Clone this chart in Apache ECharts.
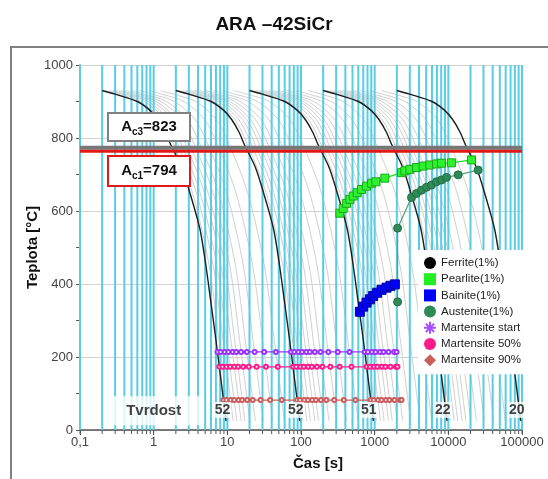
<!DOCTYPE html>
<html><head><meta charset="utf-8">
<script src="https://cdn.jsdelivr.net/npm/echarts@6/dist/echarts.min.js"></script>
<style>html,body{margin:0;padding:0;background:#fff}#c{width:548px;height:479px}</style>
</head><body><div id="c"></div>
<script>
// ---------- data ----------
const chartTitle = 'ARA \u201342SiCr';
const xTickLabels = ['0,1', '1', '10', '100', '1000', '10000', '100000'];
const gridDecades = [0.1, 1, 10, 100, 1000, 10000];
const gridMultipliers = [1, 2, 3, 4, 5, 6, 7, 8, 9];

// black cooling curves: temperature levels (°C) and the times (s) read at them
const blackCurveTemps = [930, 920, 900, 875, 850, 815, 780, 720, 650, 550, 450, 350, 250, 150, 25];
const blackCurveTimes = [
  [0.2, 0.3, 0.6, 0.9, 1.15, 1.45, 1.72, 2.4, 3.1, 4.25, 5.12, 5.98, 6.97, 8.05, 9.6],
  [2, 3, 6, 9, 11.5, 14.5, 17.2, 24, 31, 42.5, 51.2, 59.8, 69.7, 80.5, 96],
  [20, 30, 60, 90, 115, 145, 172, 240, 310, 425, 512, 598, 697, 805, 960],
  [200, 300, 600, 900, 1150, 1450, 1720, 2400, 3100, 4250, 5120, 5980, 6970, 8050, 9600],
  [2000, 3000, 6000, 9000, 11500, 14500, 17200, 24000, 31000, 42500, 51200, 59800, 69700, 80500, 96000]
];
// grey cooling curves: temperature levels (°C) and the times (s) read at them
const grayCurveTemps = [930, 920, 900, 850, 780, 650, 450, 250, 25];
const grayCurveTimes = [
  [0.22, 0.33, 0.66, 1.27, 1.89, 3.36, 5.67, 7.65, 10.6],
  [0.25, 0.375, 0.75, 1.44, 2.15, 3.81, 6.44, 8.69, 12],
  [0.28, 0.42, 0.84, 1.61, 2.41, 4.27, 7.21, 9.73, 13.4],
  [0.32, 0.48, 0.96, 1.84, 2.75, 4.88, 8.24, 11.1, 15.4],
  [0.36, 0.54, 1.08, 2.07, 3.1, 5.49, 9.27, 12.5, 17.3],
  [0.42, 0.63, 1.26, 2.42, 3.61, 6.41, 10.8, 14.6, 20.2],
  [0.5, 0.75, 1.5, 2.88, 4.3, 7.63, 12.9, 17.4, 24],
  [0.64, 0.96, 1.92, 3.68, 5.5, 9.76, 16.5, 22.2, 30.7],
  [0.86, 1.29, 2.58, 4.95, 7.4, 13.1, 22.1, 29.9, 41.3],
  [1.24, 1.86, 3.72, 7.13, 10.7, 18.9, 31.9, 43.1, 59.5],
  [2.2, 3.3, 6.6, 12.7, 18.9, 33.6, 56.7, 76.5, 106],
  [2.5, 3.75, 7.5, 14.4, 21.5, 38.1, 64.4, 86.9, 120],
  [2.8, 4.2, 8.4, 16.1, 24.1, 42.7, 72.1, 97.3, 134],
  [3.2, 4.8, 9.6, 18.4, 27.5, 48.8, 82.4, 111, 154],
  [3.6, 5.4, 10.8, 20.7, 31, 54.9, 92.7, 125, 173],
  [4.2, 6.3, 12.6, 24.2, 36.1, 64.1, 108, 146, 202],
  [5, 7.5, 15, 28.8, 43, 76.3, 129, 174, 240],
  [6.4, 9.6, 19.2, 36.8, 55, 97.6, 165, 222, 307],
  [8.6, 12.9, 25.8, 49.5, 74, 131, 221, 299, 413],
  [12.4, 18.6, 37.2, 71.3, 107, 189, 319, 431, 595],
  [22, 33, 66, 127, 189, 336, 567, 765, 1060],
  [25, 37.5, 75, 144, 215, 381, 644, 869, 1200],
  [28, 42, 84, 161, 241, 427, 721, 973, 1340],
  [32, 48, 96, 184, 275, 488, 824, 1110, 1540],
  [36, 54, 108, 207, 310, 549, 927, 1250, 1730],
  [42, 63, 126, 242, 361, 641, 1080, 1460, 2020],
  [50, 75, 150, 288, 430, 763, 1290, 1740, 2400],
  [64, 96, 192, 368, 550, 976, 1650, 2220, 3070],
  [86, 129, 258, 495, 740, 1310, 2210, 2990, 4130],
  [124, 186, 372, 713, 1070, 1890, 3190, 4310, 5950],
  [220, 330, 660, 1270, 1890, 3360, 5670, 7650, 10600],
  [250, 375, 750, 1440, 2150, 3810, 6440, 8690, 12000],
  [280, 420, 840, 1610, 2410, 4270, 7210, 9730, 13400],
  [320, 480, 960, 1840, 2750, 4880, 8240, 11100, 15400],
  [360, 540, 1080, 2070, 3100, 5490, 9270, 12500, 17300],
  [420, 630, 1260, 2420, 3610, 6410, 10800, 14600, 20200],
  [500, 750, 1500, 2880, 4300, 7630, 12900, 17400, 24000],
  [640, 960, 1920, 3680, 5500, 9760, 16500, 22200, 30700],
  [860, 1290, 2580, 4950, 7400, 13100, 22100, 29900, 41300],
  [1240, 1860, 3720, 7130, 10700, 18900, 31900, 43100, 59500]
];

const pearliteTimes = [337, 374, 416, 461, 512, 580, 664, 776, 908, 1038, 1374, 2317, 2570, 3005, 3700, 4550, 5610, 6920, 8070, 11000, 20600];
const pearliteTemps = [594, 607, 621, 632, 641, 650, 659, 668, 676, 680, 690, 705, 710, 714, 719, 723, 726, 729, 731, 732, 740];
const bainiteTimes = [630, 699, 776, 861, 955, 1082, 1239, 1449, 1641, 1879];
const bainiteTemps = [324, 338, 349, 358, 367, 376, 384, 390, 395, 399];
const austeniteTimes = [2046, 2046, 3160, 3700, 4320, 5060, 5910, 6920, 8070, 9440, 13600, 25400];
const austeniteTemps = [351, 553, 637, 648, 657, 665, 671, 680, 685, 692, 699, 712];

const msTemp = 214;
const msTimes = [7.35, 8.1, 9.2, 10.3, 11.8, 13.2, 15.4, 18.4, 23.5, 31.6, 45.6, 73.5, 81, 92, 103, 118, 132, 154, 184, 235, 316, 456, 735, 810, 920, 1030, 1180, 1320, 1540, 1840, 1980];
const m50Temp = 173;
const m50Times = [7.8, 8.6, 9.75, 10.9, 12.5, 14, 16.4, 19.5, 25, 33.5, 48.4, 78, 86, 97.5, 109, 125, 140, 164, 195, 250, 335, 484, 780, 860, 975, 1090, 1250, 1400, 1640, 1950, 2040];
const m90Temp = 82;
const m90Times = [8.85, 9.7, 11.1, 12.4, 14.2, 15.9, 18.6, 22.1, 28.3, 38.1, 54.9, 88.5, 97, 111, 124, 142, 159, 186, 221, 283, 381, 549, 885, 970, 1110, 1240, 1420, 1590, 1860, 2210, 2320];

const acLineTemps = [773, 764];         // drawn positions of the Ac3 / Ac1 lines
const acLabels = ['823', '794'];
const hardnessValues = ['52', '52', '51', '22', '20'];
const hardnessTimes = [8.6, 85, 830, 8400, 85000];
const hardnessLabelTemp = 55;
const hardnessTitle = 'Tvrdost';
const hardnessTitlePos = [1.0, 53];

// ---------- chart ----------
const FONT = 'Liberation Sans, Arial, sans-serif';
const gridTimes = [];
gridDecades.forEach(d => gridMultipliers.forEach(m => gridTimes.push(d * m)));
gridTimes.push(100000);

const series = [];
grayCurveTimes.forEach(row => series.push({
  type: 'line', silent: true, z: 2, symbol: 'none', smooth: 0.3,
  lineStyle: {color: '#d0d0d0', width: 1},
  data: row.map((t, i) => [t, grayCurveTemps[i]])
}));
series.push({
  type: 'custom', z: 3, silent: true, clip: false,
  data: gridTimes.map(v => [v, 0]),
  renderItem: (params, api) => {
    const v = api.value(0);
    const p0 = api.coord([v, 0]);
    const p1 = api.coord([v, 1000]);
    return {type: 'group', children: [
      {type: 'line', shape: {x1: p0[0], y1: p0[1], x2: p1[0], y2: p1[1]}, style: {stroke: '#58CDE4', lineWidth: 2}},
      {type: 'line', shape: {x1: p0[0], y1: p0[1], x2: p0[0], y2: p0[1] + 4}, style: {stroke: '#555', lineWidth: 1}}
    ]};
  }
});
blackCurveTimes.forEach(row => series.push({
  type: 'line', silent: true, z: 4, symbol: 'none', smooth: 0.3,
  lineStyle: {color: '#1e1e1e', width: 1.4},
  data: row.map((t, i) => [t, blackCurveTemps[i]])
}));
series.push({type: 'line', silent: true, z: 5, symbol: 'none', lineStyle: {color: '#777', width: 4},
  data: [[0.1, acLineTemps[0]], [100000, acLineTemps[0]]]});
series.push({type: 'line', silent: true, z: 5, symbol: 'none', lineStyle: {color: '#e01818', width: 3},
  data: [[0.1, acLineTemps[1]], [100000, acLineTemps[1]]]});

function mart(name, times, temp, color, sym) {
  return {name, type: 'line', z: 6, symbol: sym, symbolSize: 4, color,
    lineStyle: {color, width: 1.3}, itemStyle: {color, borderColor: color, borderWidth: 1},
    data: times.map(t => [t, temp])};
}
series.push(mart('Martensite start', msTimes, msTemp, '#9933ff', 'emptyCircle'));
series.push(mart('Martensite 50%', m50Times, m50Temp, '#ff1a8c', 'emptyCircle'));
series.push(mart('Martensite 90%', m90Times, m90Temp, '#cd5c5c', 'emptyCircle'));

series.push({name: 'Ferrite(1%)', type: 'line', color: '#000', data: []});
series.push({name: 'Pearlite(1%)', type: 'line', z: 7, color: '#22ee22', symbol: 'rect', symbolSize: 8,
  lineStyle: {color: '#22dd22', width: 1.3}, itemStyle: {color: '#2ef22e', borderColor: '#1aa51a', borderWidth: 1},
  data: pearliteTimes.map((t, i) => [t, pearliteTemps[i]])});
series.push({name: 'Bainite(1%)', type: 'line', z: 7, color: '#0000ff', symbol: 'rect', symbolSize: 9,
  lineStyle: {color: '#0000ff', width: 1.3}, itemStyle: {color: '#0000ff', borderColor: '#0000a0', borderWidth: 1},
  data: bainiteTimes.map((t, i) => [t, bainiteTemps[i]])});
series.push({name: 'Austenite(1%)', type: 'line', z: 7, color: '#2e8b57', symbol: 'circle', symbolSize: 8,
  lineStyle: {color: '#5f9f7c', width: 1.3}, itemStyle: {color: '#2e8b57', borderColor: '#1f6b40', borderWidth: 1},
  data: austeniteTimes.map((t, i) => [t, austeniteTemps[i]])});

series.push({type: 'scatter', z: 8, silent: true, symbolSize: 1, itemStyle: {color: 'rgba(0,0,0,0)'},
  data: hardnessTimes.map((t, i) => ({value: [t, hardnessLabelTemp], label: {formatter: hardnessValues[i]}})),
  label: {show: true, position: 'inside', color: '#111', fontFamily: FONT, fontWeight: 'bold', fontSize: 14,
    backgroundColor: '#fff', padding: [1, 1]}});
series.push({type: 'scatter', z: 8, silent: true, symbolSize: 1, itemStyle: {color: 'rgba(0,0,0,0)'},
  data: [hardnessTitlePos],
  label: {show: true, position: 'inside', formatter: hardnessTitle, color: '#111', fontFamily: FONT,
    fontWeight: 'bold', fontSize: 15, backgroundColor: '#fff', padding: [7, 18]}});

const asterisk = 'path://M-1,-6L1,-6L1,6L-1,6ZM-6,-1L6,-1L6,1L-6,1ZM-4.9,-3.5L-3.5,-4.9L4.9,3.5L3.5,4.9ZM3.5,-4.9L4.9,-3.5L-3.5,4.9L-4.9,3.5Z';

function acLabel(x, y, w, h, stroke, sub, val) {
  return {type: 'group', z: 20, children: [
    {type: 'rect', z: 20, shape: {x, y, width: w, height: h}, style: {fill: '#fff', stroke, lineWidth: 2}},
    {type: 'text', z: 21, x: x + w / 2, y: y + h / 2, style: {
      text: '{a|A}{s|' + sub + '}{a|=' + val + '}', align: 'center', verticalAlign: 'middle',
      rich: {a: {fontFamily: FONT, fontWeight: 'bold', fontSize: 15, fill: '#111', lineHeight: 20},
             s: {fontFamily: FONT, fontWeight: 'bold', fontSize: 10, fill: '#111', lineHeight: 10, verticalAlign: 'bottom'}}}}
  ]};
}

const chart = echarts.init(document.getElementById('c'), null, {renderer: 'canvas'});
chart.setOption({
  animation: false,
  backgroundColor: '#fff',
  title: {text: chartTitle, left: 'center', top: 10,
    textStyle: {fontFamily: FONT, fontWeight: 'bold', fontSize: 19, color: '#111'}},
  grid: {left: 80, right: 26, top: 65, bottom: 49},
  legend: {
    orient: 'vertical', left: 418, top: 250, z: 20, selectedMode: false,
    backgroundColor: '#fff', padding: [7, 10, 8, 6],
    itemWidth: 12, itemHeight: 12, itemGap: 4.2,
    textStyle: {fontFamily: FONT, fontSize: 11.5, color: '#222'},
    data: [
      {name: 'Ferrite(1%)', icon: 'circle', itemStyle: {color: '#000'}},
      {name: 'Pearlite(1%)', icon: 'rect', itemStyle: {color: '#22ee22', borderWidth: 0}},
      {name: 'Bainite(1%)', icon: 'rect', itemStyle: {color: '#0000ff', borderWidth: 0}},
      {name: 'Austenite(1%)', icon: 'circle', itemStyle: {color: '#2e8b57', borderWidth: 0}},
      {name: 'Martensite start', icon: asterisk, itemStyle: {color: '#a64dff', borderWidth: 0}},
      {name: 'Martensite 50%', icon: 'circle', itemStyle: {color: '#ff1a8c', borderWidth: 0}},
      {name: 'Martensite 90%', icon: 'diamond', itemStyle: {color: '#c8605a', borderWidth: 0}}
    ]
  },
  xAxis: {
    type: 'log', logBase: 10, min: 0.1, max: 100000, splitNumber: 6,
    axisLine: {lineStyle: {color: '#555', width: 1.5}},
    axisTick: {show: true, length: 5, lineStyle: {color: '#555'}},
    axisLabel: {fontFamily: FONT, fontSize: 13, color: '#444', margin: 6,
      formatter: v => xTickLabels[Math.round(Math.log10(v)) + 1]},
    splitLine: {show: false},
    name: 'Čas [s]', nameLocation: 'middle', nameGap: 26, nameMoveOverlap: false,
    nameTextStyle: {fontFamily: FONT, fontWeight: 'bold', fontSize: 15, color: '#111', padding: [0, 0, 0, 34]}
  },
  yAxis: {
    type: 'value', min: 0, max: 1000, interval: 200,
    axisLine: {show: true, lineStyle: {color: '#555', width: 1.5}},
    axisTick: {show: true, length: 4, lineStyle: {color: '#555'}},
    minorTick: {show: true, splitNumber: 2, length: 4, lineStyle: {color: '#555'}},
    axisLabel: {fontFamily: FONT, fontSize: 13, color: '#444', margin: 7, formatter: v => String(v)},
    splitLine: {lineStyle: {color: '#d2d2d2', width: 1}},
    name: 'Teplota [°C]', nameLocation: 'middle', nameGap: 40, nameMoveOverlap: false,
    nameTextStyle: {fontFamily: FONT, fontWeight: 'bold', fontSize: 15, color: '#111'}
  },
  graphic: [
    {type: 'rect', z: 30, silent: true, shape: {x: 11, y: 47, width: 600, height: 500},
      style: {fill: 'none', stroke: '#808080', lineWidth: 2}},
    acLabel(108, 113, 82, 28, '#808080', 'c3', acLabels[0]),
    acLabel(108, 156, 82, 30, '#e01818', 'c1', acLabels[1])
  ],
  series
});
</script></body></html>
